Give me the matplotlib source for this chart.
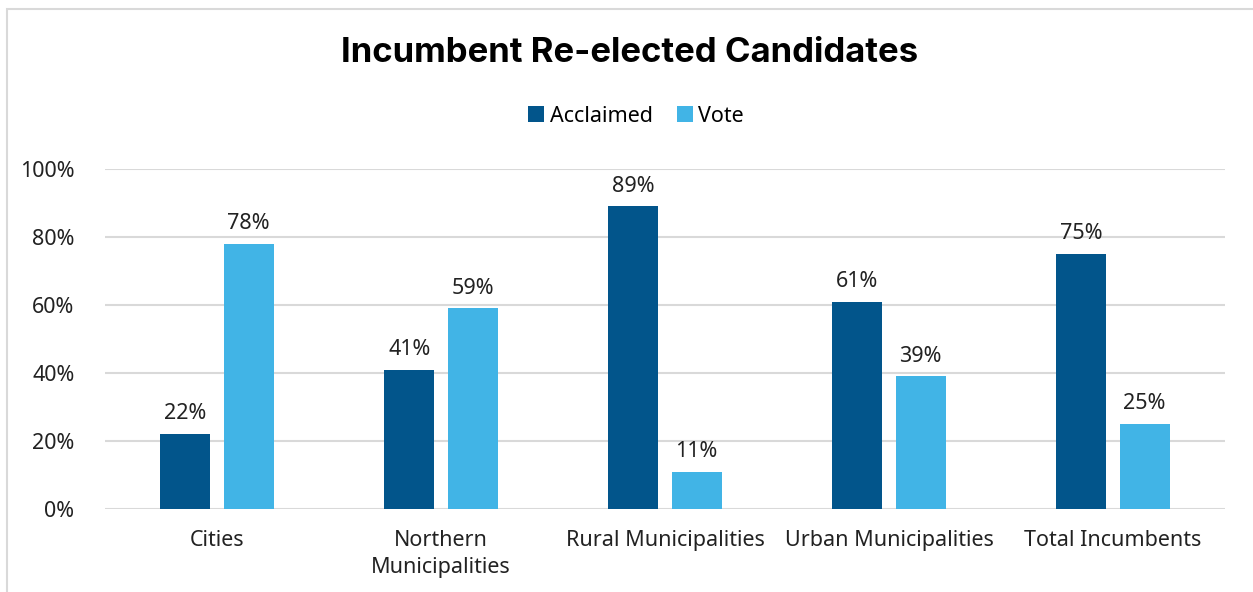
import matplotlib.pyplot as plt
import numpy as np
from matplotlib.patches import Rectangle

categories = ['Cities', 'Northern\nMunicipalities', 'Rural Municipalities',
              'Urban Municipalities', 'Total Incumbents']
acclaimed = [0.22, 0.41, 0.89, 0.61, 0.75]
vote = [0.78, 0.59, 0.11, 0.39, 0.25]
yticks = [0, 0.2, 0.4, 0.6, 0.8, 1.0]

plt.rcParams['font.family'] = ['Noto Sans', 'DejaVu Sans']
fs = 15.5

fig = plt.figure(figsize=(12.53, 5.92), dpi=100)
# outer chart border
fig.patches.append(Rectangle((7 / 1253, -0.1), 1.2, (592 - 9) / 592 + 0.1,
                             transform=fig.transFigure, fill=False,
                             edgecolor='#D9D9D9', linewidth=1.5))

ax = fig.add_axes([105 / 1253, 83 / 592, 1120 / 1253, 340 / 592])
x = np.arange(len(categories))
w = 0.223
off = 0.141
b1 = ax.bar(x - off, acclaimed, w, color='#02558B', label='Acclaimed', zorder=3)
b2 = ax.bar(x + off, vote, w, color='#41B4E6', label='Vote', zorder=3)

for bars, vals in [(b1, acclaimed), (b2, vote)]:
    for b, v in zip(bars, vals):
        ax.annotate('{:.0f}%'.format(v * 100), (b.get_x() + b.get_width() / 2, v),
                    xytext=(0, 7), textcoords='offset points', ha='center',
                    va='bottom', fontsize=fs, color='#222222')

ax.set_xlim(-0.5, len(categories) - 0.5)
ax.set_ylim(0, 1.0)
ax.set_yticks(yticks)
ax.set_yticklabels(['{:.0f}%'.format(t * 100) for t in yticks])
ax.set_xticks(x)
ax.set_xticklabels(categories, linespacing=1.4)
ax.tick_params(axis='y', length=0, pad=22, labelsize=fs, labelcolor='#222222')
ax.tick_params(axis='x', length=0, pad=15, labelsize=fs, labelcolor='#222222')
ax.yaxis.grid(True, color='#D9D9D9', linewidth=1.5, zorder=0)
for s in ax.spines.values():
    s.set_visible(False)

fig.text(630 / 1253, 1 - 53 / 592, 'Incumbent Re-elected Candidates', ha='center',
         va='center', fontsize=25, fontweight='bold', color='black',
         family=['Inter', 'DejaVu Sans'])
fig.legend(loc='center', bbox_to_anchor=(636 / 1253, 1 - 116 / 592), ncol=2,
           frameon=False, fontsize=fs, handlelength=0.75, handleheight=0.75,
           handletextpad=0.25, columnspacing=1.1)

fig.savefig('out.png', dpi=100)
